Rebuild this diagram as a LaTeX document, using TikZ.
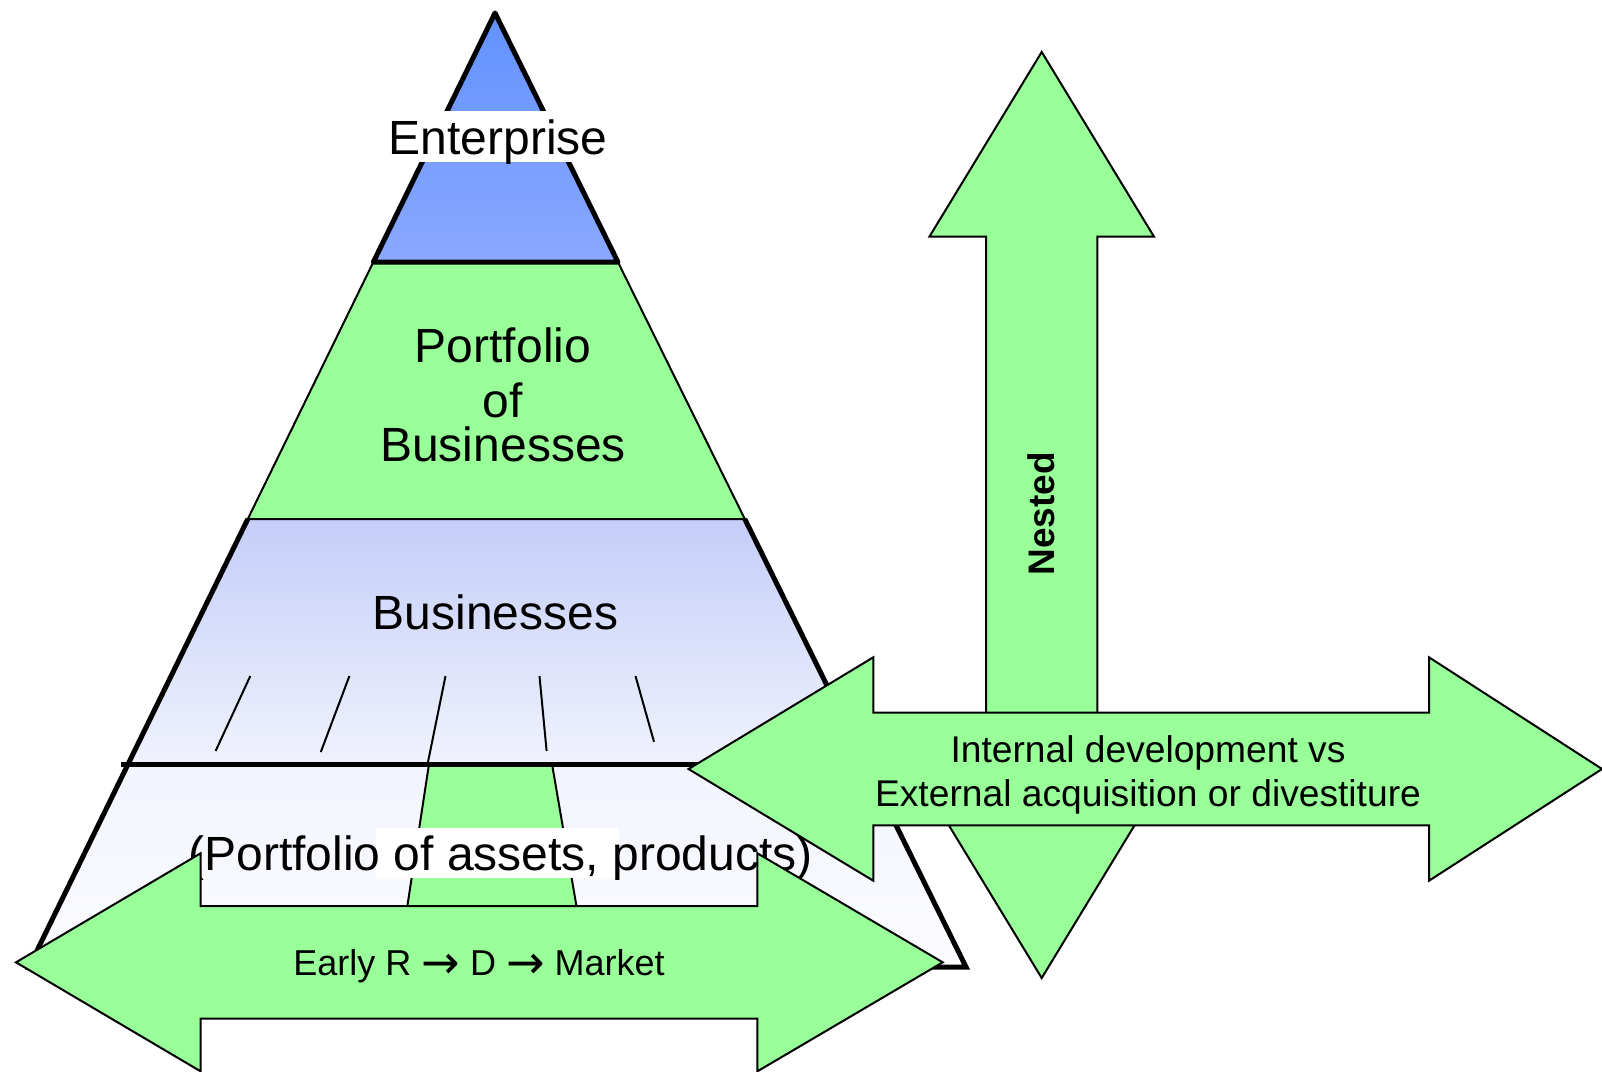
\documentclass[tikz,border=0pt]{standalone}
\usepackage{fontspec}
\setmainfont{Liberation Sans}
\newfontfamily\arrowfont{DejaVu Sans}
\definecolor{agreen}{RGB}{153,255,153}
\definecolor{enttop}{RGB}{98,146,255}
\definecolor{entbot}{RGB}{138,168,255}
\definecolor{bustop}{RGB}{196,206,248}
\definecolor{busbot}{RGB}{240,242,253}
\definecolor{lowtop}{RGB}{242,244,254}
\definecolor{lowbot}{RGB}{252,252,255}
\newcommand{\rarr}{\raisebox{-3pt}{\arrowfont\fontsize{46}{46}\selectfont →}}
\tikzset{
  thickline/.style={draw=black, line width=5pt, line join=miter},
  thinline/.style={draw=black, line width=2pt},
  arrowshape/.style={draw=black, line width=2pt, fill=agreen, line join=miter},
  bigtext/.style={font=\fontsize{48}{52}\selectfont, inner sep=0pt, anchor=base},
  midtext/.style={font=\fontsize{37.2}{44}\selectfont, inner sep=0pt, anchor=base},
  smalltext/.style={font=\fontsize{36}{42}\selectfont, inner sep=0pt, anchor=base},
  boldtext/.style={font=\fontsize{37}{42}\selectfont\bfseries, inner sep=0pt}
}
\begin{document}
\begin{tikzpicture}[x=1pt,y=-1pt]
\useasboundingbox (0,0) rectangle (1602,1071);
% lower part of pyramid
\fill[top color=bustop,bottom color=busbot] (247.8,519) -- (744.8,519) -- (865.8,764) -- (128.2,764) -- cycle;
\fill[top color=lowtop,bottom color=lowbot] (128.2,764) -- (865.8,764) -- (966,967) -- (29,967) -- cycle;
\draw[thinline, fill=agreen] (429,764) -- (552,764) -- (578,915) -- (406,915) -- cycle;
\draw[thickline] (247.8,519) -- (29,967) -- (966,967) -- (744.8,519);
\draw[thickline] (121,764) -- (866,764);
% portfolio of businesses layer
\draw[thinline, fill=agreen] (373.4,262) -- (617.9,262) -- (744.8,519) -- (247.8,519) -- cycle;
% enterprise triangle
\draw[thickline, line join=round, top color=enttop, bottom color=entbot] (495,13) -- (617.9,262) -- (373.4,262) -- cycle;
\fill[white] (390,111) rectangle (607,162);
\node[bigtext] (ent) at (498,154) {Enterprise};
% labels
\node[bigtext] (pf1) at (503,362) {Portfolio};
\node[bigtext] (pf2) at (503,417) {of};
\node[bigtext] (pf3) at (503,461) {Businesses};
\node[bigtext] (bus) at (495.5,629) {Businesses};
% slanted strokes
\draw[thinline] (250.3,676) -- (215.6,751);
\draw[thinline] (349.4,676) -- (320.8,752);
\draw[thinline] (445.5,676) -- (428,762);
\draw[thinline] (539.5,676) -- (546.6,751);
\draw[thinline] (635.5,676) -- (654,741.8);
% assets label
\fill[white] (376,828) rectangle (619,878);
\node[bigtext] (assets) at (500.6,870.5) {(Portfolio of assets, products)};
% bottom double arrow
\draw[arrowshape] (16,962.3) -- (200.6,853.3) -- (200.6,906) -- (757.4,906) -- (757.4,853.3) -- (942.7,962.3) -- (757.4,1071.3) -- (757.4,1018.5) -- (200.6,1018.5) -- (200.6,1071.3) -- cycle;
\node[smalltext] (early) at (479,975) {Early R \rarr{} D \rarr{} Market};
% vertical double arrow
\draw[arrowshape] (1041.7,52) -- (1154,236.7) -- (1097.3,236.7) -- (1097.3,793.3) -- (1154,793.3) -- (1041.7,978) -- (929.4,793.3) -- (986,793.3) -- (986,236.7) -- (929.4,236.7) -- cycle;
\node[boldtext, rotate=90] (nested) at (1041,514) {Nested};
% horizontal double arrow
\draw[arrowshape] (688.5,769) -- (873.3,657.3) -- (873.3,712.7) -- (1429,712.7) -- (1429,657.3) -- (1602,769) -- (1429,880.7) -- (1429,825.3) -- (873.3,825.3) -- (873.3,880.7) -- cycle;
\node[midtext] (int1) at (1148,762) {Internal development vs};
\node[midtext] (int2) at (1148,806) {External acquisition or divestiture};
\end{tikzpicture}
\end{document}
